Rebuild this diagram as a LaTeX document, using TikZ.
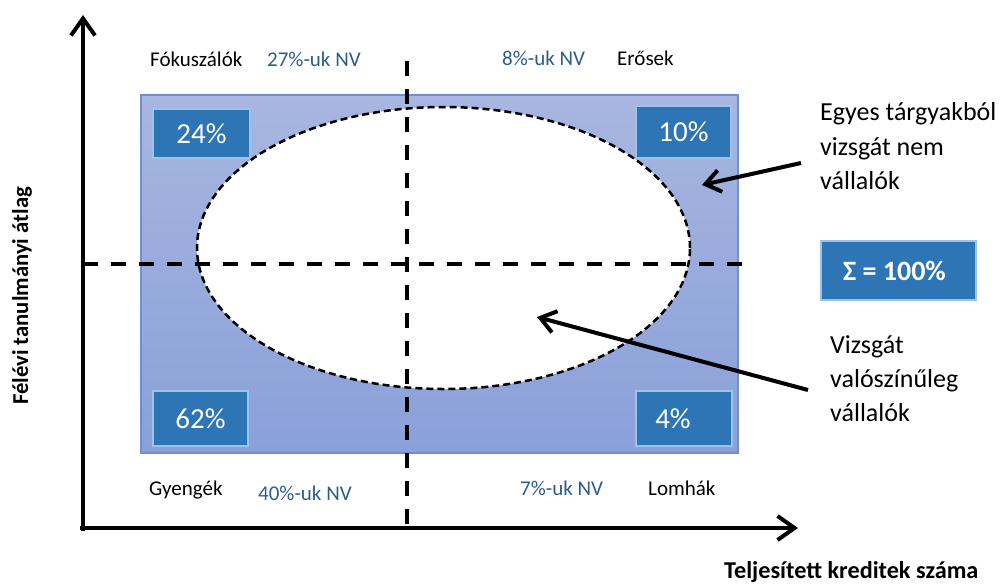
\documentclass[tikz,border=0pt]{standalone}
\usepackage{fontspec}
\setmainfont{Carlito}
\usetikzlibrary{arrows.meta,shapes.geometric}
\definecolor{nvblue}{HTML}{2E5C8A}
\definecolor{boxblue}{HTML}{2E75B6}
\definecolor{boxedge}{HTML}{9DC3E6}
\definecolor{recttop}{HTML}{A8B6E0}
\definecolor{rectbot}{HTML}{8AA0D9}
\definecolor{rectedge}{HTML}{6F8FD3}
\begin{document}
\begin{tikzpicture}[x=1pt,y=-1pt,
  pctbox/.style={draw=boxedge, line width=1.2pt, fill=boxblue, text=white, inner sep=0,
    font=\fontsize{29}{34}\selectfont},
  cat/.style={anchor=base west, inner sep=0, font=\fontsize{21}{25}\selectfont},
  nv/.style={cat, text=nvblue},
  note/.style={anchor=base west, inner sep=0, font=\fontsize{26}{34}\selectfont},
  axislbl/.style={inner sep=0, font=\fontsize{23}{27}\selectfont\bfseries},
  bigdash/.style={line width=4pt, dash pattern=on 15pt off 13pt},
  axisline/.style={line width=4pt, -{Straight Barb[length=17pt,width=24pt]}},
  pointer/.style={line width=4pt, -{Straight Barb[length=15pt,width=22pt]}},
]
\useasboundingbox (0,0) rectangle (1003,584);

% field
\node[draw=rectedge, line width=1.2pt, top color=recttop, bottom color=rectbot,
  minimum width=597pt, minimum height=358pt, inner sep=0] (field) at (439.5,274) {};

% percentage boxes
\node[pctbox, minimum width=97pt, minimum height=49pt] (p24) at (201.5,133.5) {24\%};
\node[pctbox, minimum width=95pt, minimum height=52pt] (p10) at (683.5,132) {10\%};
\node[pctbox, minimum width=95pt, minimum height=55pt] (p62) at (200.5,418.5) {62\%};
\node[pctbox, minimum width=96pt, minimum height=55pt] (p4) at (684,418.5) {4\%\hspace*{22pt}};

% ellipse
\node[ellipse, draw, fill=white, line width=2.5pt, dash pattern=on 7pt off 4pt,
  minimum width=493pt, minimum height=282pt, inner sep=0] (oval) at (443.5,248) {};

% dashed quadrant lines
\coordinate (hl) at (83,264);
\coordinate (hr) at (743,264);
\coordinate (vt) at (407,61);
\coordinate (vb) at (407,525);
\draw[bigdash] (hl) -- (hr);
\draw[bigdash] (vt) -- (vb);

% axes
\coordinate (ybot) at (83,531);
\coordinate (ytop) at (83,15);
\coordinate (xl) at (80,528);
\coordinate (xr) at (798,528);
\draw[axisline] (ybot) -- (ytop);
\draw[axisline] (xl) -- (xr);

% category labels
\node[cat] (fok) at (150,66) {Fókuszálók};
\node[nv] (nv27) at (267,66) {27\%-uk NV};
\node[nv] (nv8) at (502,65) {8\%-uk NV};
\node[cat] (ero) at (617,65) {Erősek};
\node[cat] (gye) at (149,495) {Gyengék};
\node[nv] (nv40) at (258,500) {40\%-uk NV};
\node[nv] (nv7) at (520,495) {7\%-uk NV};
\node[cat] (lom) at (648,495) {Lomhák};

% sum box
\node[pctbox, minimum width=155pt, minimum height=59pt, font=\fontsize{28}{34}\selectfont\bfseries]
  (sum) at (898.5,270.5) {Σ = 100\%\hspace*{8pt}};

% notes
\node[note] (eg1) at (820,120) {Egyes tárgyakból};
\node[note] (eg2) at (820,155) {vizsgát nem};
\node[note] (eg3) at (820,189) {vállalók};
\node[note] (vz1) at (830,353) {Vizsgát};
\node[note] (vz2) at (830,387) {valószínűleg};
\node[note] (vz3) at (830,421) {vállalók};

% pointers
\coordinate (a1s) at (801,163);
\coordinate (a1e) at (702,185);
\coordinate (a2s) at (808,390);
\coordinate (a2e) at (537,317);
\draw[pointer] (a1s) -- (a1e);
\draw[pointer] (a2s) -- (a2e);

% axis labels
\node[axislbl, anchor=base west, font=\fontsize{24.2}{28}\selectfont\bfseries] (xlab) at (724,578.5) {Teljesített kreditek száma};
\node[axislbl, anchor=base, rotate=90, font=\fontsize{22.7}{27}\selectfont\bfseries] (ylab) at (28,296) {Félévi tanulmányi átlag};
\end{tikzpicture}
\end{document}
